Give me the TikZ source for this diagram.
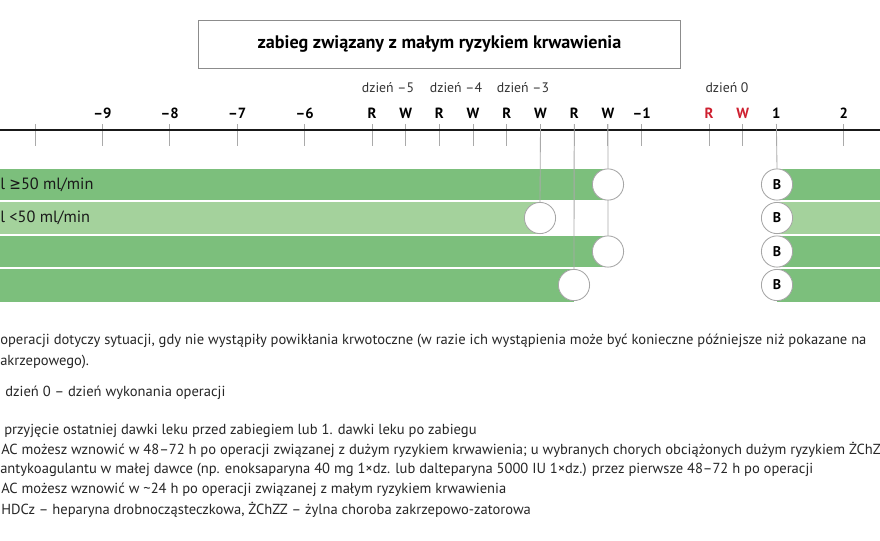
\documentclass[tikz,border=0pt]{standalone}
\usepackage{fontspec}
\setmainfont{PT Sans}
\newfontfamily\symf{DejaVu Sans}[FakeStretch=0.85]
\usetikzlibrary{positioning}
\definecolor{bardark}{RGB}{124,191,124}
\definecolor{barlight}{RGB}{164,210,156}
\definecolor{dayred}{RGB}{206,32,48}
\definecolor{guidegray}{RGB}{170,170,170}
\tikzset{
	axtick/.style={guidegray, line width=0.6pt},
	guide/.style={guidegray, line width=0.6pt},
	axlab/.style={font=\fontsize{10.5}{12}\selectfont\bfseries, text=black!85, inner sep=0pt},
	daylab/.style={font=\fontsize{9.8}{12}\selectfont, text=black!80, inner sep=0pt},
	endc/.style={circle, draw=black!35, line width=0.6pt, fill=white, minimum size=0.78cm, inner sep=0pt, font=\fontsize{10}{12}\selectfont\bfseries},
	rowlab/.style={anchor=west, inner sep=0pt, font=\fontsize{11.6}{13}\selectfont, text=black!90},
	note/.style={anchor=base west, inner sep=0pt, font=\fontsize{10.35}{12}\selectfont, text=black!85},
	titlebox/.style={draw=black!45, line width=0.7pt, minimum width=12.03cm, minimum height=1.2cm, font=\fontsize{12.9}{15}\selectfont\bfseries}
}

\begin{document}
\begin{tikzpicture}[x=0.025cm, y=-0.025cm]
	%%%%% START %%%%%
	\useasboundingbox (0, 0) rectangle (880, 540);
	
	\node[titlebox] (title) at (439.5, 44) {zabieg związany z małym ryzykiem krwawienia};
	
	% bars
	\fill[bardark] (-5, 168) rectangle (608, 201);
	\fill[barlight] (-5, 201) rectangle (540, 235);
	\fill[bardark] (-5, 235) rectangle (608, 268);
	\fill[bardark] (-5, 268) rectangle (574, 302);
	\fill[bardark] (777, 168) rectangle (885, 201);
	\fill[barlight] (777, 201) rectangle (885, 235);
	\fill[bardark] (777, 235) rectangle (885, 268);
	\fill[bardark] (777, 268) rectangle (885, 302);
	\foreach \y in {168, 201, 235, 268}
		\draw[white, line width=0.8pt] (-5, \y) -- (885, \y);
	
	\node[rowlab] (row1) at (0, 184.5) {l {\symf ≥}50 ml/min};
	\node[rowlab] (row2) at (0, 218) {l <50 ml/min};
	
	% axis
	\foreach \t/\lab/\col [count=\i] in {-10/{}/black, -9/{–9}/black, -8/{–8}/black, -7/{–7}/black, -6/{–6}/black, -5/R/black, -4.5/W/black, -4/R/black, -3.5/W/black, -3/R/black, -2.5/W/black, -2/R/black, -1.5/W/black, -1/{–1}/black, 0/R/dayred, 0.5/W/dayred, 1/1/black, 2/2/black} {
		\coordinate (t\i) at ({709+67.4*\t}, 124);
		\draw[axtick] (t\i) -- ++(0, 22);
		\node[axlab, text=\col] (lab\i) at ({709+67.4*\t}, 113) {\lab};
	}
	\draw[line width=1.4pt, black!90] (0, 130) -- (880, 130);
	
	\node[daylab] (day5) at (388, 88) {dzień –5};
	\node[daylab] (day4) at (456, 88) {dzień –4};
	\node[daylab] (day3) at (523, 88) {dzień –3};
	\node[daylab] (day0) at (727, 88) {dzień 0};
	
	% guides and circles
	\draw[guide] (t11) -- (540, 202);
	\draw[guide] (t12) -- (574, 269);
	\draw[guide] (t13) -- (608, 236);
	\draw[guide] (t17) -- (777, 169);
	
	\node[endc] (c1) at (608, 184.5) {};
	\node[endc] (c2) at (540, 218) {};
	\node[endc] (c3) at (608, 251.5) {};
	\node[endc] (c4) at (574, 285) {};
	\foreach \y [count=\i] in {184.5, 218, 251.5, 285}
		\node[endc] (b\i) at (777, \y) {B};
	
	% notes
	\node[note] (n1) at (0, 344) {operacji dotyczy sytuacji, gdy nie wystąpiły powikłania krwotoczne (w razie ich wystąpienia może być konieczne późniejsze niż pokazane na};
	\node[note] (n2) at (0, 365) {akrzepowego).};
	\node[note] (n3) at (5, 396) {dzień 0 – dzień wykonania operacji};
	\node[note] (n4) at (4, 434) {przyjęcie ostatniej dawki leku przed zabiegiem lub 1. dawki leku po zabiegu};
	\node[note] (n5) at (1, 454) {AC możesz wznowić w 48–72 h po operacji związanej z dużym ryzykiem krwawienia; u wybranych chorych obciążonych dużym ryzykiem ŻChZ};
	\node[note] (n6) at (0, 473) {antykoagulantu w małej dawce (np. enoksaparyna 40 mg 1×dz. lub dalteparyna 5000 IU 1×dz.) przez pierwsze 48–72 h po operacji};
	\node[note] (n7) at (1, 493) {AC możesz wznowić w \textasciitilde24 h po operacji związanej z małym ryzykiem krwawienia};
	\node[note] (n8) at (1, 514) {HDCz – heparyna drobnocząsteczkowa, ŻChZZ – żylna choroba zakrzepowo-zatorowa};
	%%%%% END %%%%%
\end{tikzpicture}
\end{document}
